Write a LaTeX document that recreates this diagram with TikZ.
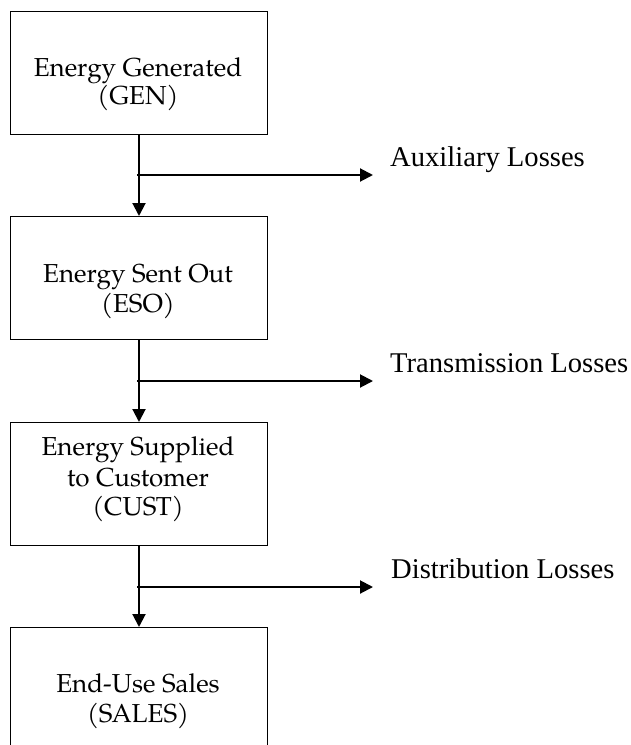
\documentclass[tikz,border=0pt]{standalone}
\usepackage{fontspec}
\setmainfont{TeX Gyre Pagella}
\newfontfamily\labfont{Liberation Serif}
\usetikzlibrary{arrows.meta}
\begin{document}
\begin{tikzpicture}[x=1pt,y=-1pt,
  boxstyle/.style={draw=black,line width=1.4pt,minimum width=257pt,inner sep=0pt,anchor=north west},
  boxtext/.style={anchor=base,inner sep=0pt,font=\fontsize{26}{30}\selectfont},
  labtext/.style={anchor=base west,inner sep=0pt,font=\labfont\fontsize{28.6}{32}\selectfont},
  thinline/.style={line width=1.2pt},
  flowarrow/.style={line width=2pt,-{Triangle[length=13pt,width=13pt]}}]
\useasboundingbox (0,0) rectangle (631,745);
\clip (0,0) rectangle (631,745);
% boxes
\node[boxstyle,minimum height=123pt] (gen) at (10,11) {};
\node[boxstyle,minimum height=123pt] (eso) at (10,216) {};
\node[boxstyle,minimum height=123pt] (cust) at (10,422) {};
\node[boxstyle,minimum height=160pt] (sales) at (10,627) {};
% box texts
\node[boxtext] (gen1) at (138,76) {Energy Generated};
\node[boxtext] (gen2) at (138,104) {(GEN)};
\node[boxtext] (eso1) at (138,282) {Energy Sent Out};
\node[boxtext] (eso2) at (138,312) {(ESO)};
\node[boxtext] (cust1) at (138,455) {Energy Supplied};
\node[boxtext] (cust2) at (138,486) {to Customer};
\node[boxtext] (cust3) at (138,515) {(CUST)};
\node[boxtext] (sales1) at (138,692) {End-Use Sales};
\node[boxtext] (sales2) at (138,722) {(SALES)};
% junctions and loss ends
\coordinate (j1) at (139,175);
\coordinate (j2) at (139,381);
\coordinate (j3) at (139,587);
\coordinate (e1) at (373,175);
\coordinate (e2) at (373,381);
\coordinate (e3) at (373,587);
% loss labels
\node[labtext] (aux) at (390,166) {Auxiliary Losses};
\node[labtext] (trans) at (390,372) {Transmission Losses};
\node[labtext] (dist) at (391,578) {Distribution Losses};
% connectors
\draw[thinline] (gen.south -| j1) -- (j1);
\draw[flowarrow] ([xshift=-2pt]j1) -- (e1);
\draw[flowarrow] (j1) -- (eso.north -| j1);
\draw[thinline] (eso.south -| j2) -- (j2);
\draw[flowarrow] ([xshift=-2pt]j2) -- (e2);
\draw[flowarrow] (j2) -- (cust.north -| j2);
\draw[thinline] (cust.south -| j3) -- (j3);
\draw[flowarrow] ([xshift=-2pt]j3) -- (e3);
\draw[flowarrow] (j3) -- (sales.north -| j3);
\end{tikzpicture}
\end{document}
